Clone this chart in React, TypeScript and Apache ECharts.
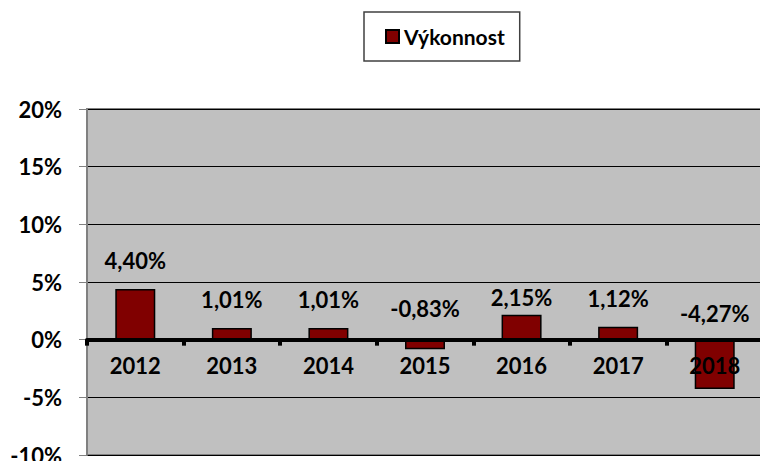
import React, { useEffect, useRef } from "react";
import * as echarts from "echarts";

const categories = ["2012", "2013", "2014", "2015", "2016", "2017", "2018"];
const values = [4.4, 1.01, 1.01, -0.83, 2.15, 1.12, -4.27];
const labelDistances = [17, 18, 18, 20, 6, 17, 15];
const seriesName = "Výkonnost";
const FONT = "Lato, 'Liberation Sans', Arial, sans-serif";
const Y_MIN = -10;
const Y_MAX = 20;
const GRID_TOP = 109;
const GRID_HEIGHT = 346;

export default function App() {
  const ref = useRef<HTMLDivElement>(null);
  useEffect(() => {
    const chart = echarts.init(ref.current!, null, { renderer: "svg" });
    // distance of the zero line above the grid bottom
    const zeroOffset = (GRID_HEIGHT * (0 - Y_MIN)) / (Y_MAX - Y_MIN);
    chart.setOption({
      animation: false,
      backgroundColor: "#ffffff",
      legend: {
        left: 364,
        top: 12,
        orient: "horizontal",
        data: [seriesName],
        padding: [14, 15, 14, 21],
        borderColor: "#404040",
        borderWidth: 1.5,
        itemWidth: 13,
        itemHeight: 13,
        icon: "rect",
        itemStyle: { borderColor: "#000", borderWidth: 2 },
        textStyle: { fontFamily: FONT, fontWeight: "bold", fontSize: 21, color: "#000", lineHeight: 20 },
      },
      grid: {
        left: 87,
        top: GRID_TOP,
        width: 676,
        height: GRID_HEIGHT,
        outerBoundsMode: "none",
        containLabel: false,
        show: true,
        backgroundColor: "#c0c0c0",
        borderColor: "#808080",
        borderWidth: 2,
      },
      xAxis: {
        type: "category",
        data: categories,
        position: "bottom",
        offset: -zeroOffset,
        axisLine: { show: true, onZero: false, lineStyle: { color: "#000", width: 4 } },
        axisTick: { show: true, length: 6, lineStyle: { color: "#000", width: 4 } },
        axisLabel: { fontFamily: FONT, fontWeight: "bold", fontSize: 22, color: "#000", margin: 15 },
        splitLine: { show: false },
        z: 5,
      },
      yAxis: {
        type: "value",
        min: Y_MIN,
        max: Y_MAX,
        interval: 5,
        axisLine: { show: true, lineStyle: { color: "#808080", width: 2 } },
        axisTick: { show: true, length: 8, lineStyle: { color: "#808080", width: 1 } },
        axisLabel: {
          fontFamily: FONT,
          fontWeight: "bold",
          fontSize: 22,
          color: "#000",
          margin: 25,
          formatter: (v: number) => `${v}%`,
        },
        splitLine: { show: true, lineStyle: { color: "#000", width: 1 } },
      },
      series: [
        {
          name: seriesName,
          type: "bar",
          barWidth: 40,
          itemStyle: { color: "#800000", borderColor: "#000", borderWidth: 1.5 },
          data: values.map((v, i) => ({
            value: v,
            label: { distance: labelDistances[i] },
          })),
          label: {
            show: true,
            position: "top",
            fontFamily: FONT,
            fontWeight: "bold",
            fontSize: 22,
            color: "#000",
            formatter: (p: any) => `${p.value.toFixed(2).replace(".", ",")}%`,
          },
          z: 3,
        },
      ],
    });
    return () => chart.dispose();
  }, []);
  return <div ref={ref} style={{ width: 760, height: 461, position: "absolute", left: 0, top: 0 }} />;
}
